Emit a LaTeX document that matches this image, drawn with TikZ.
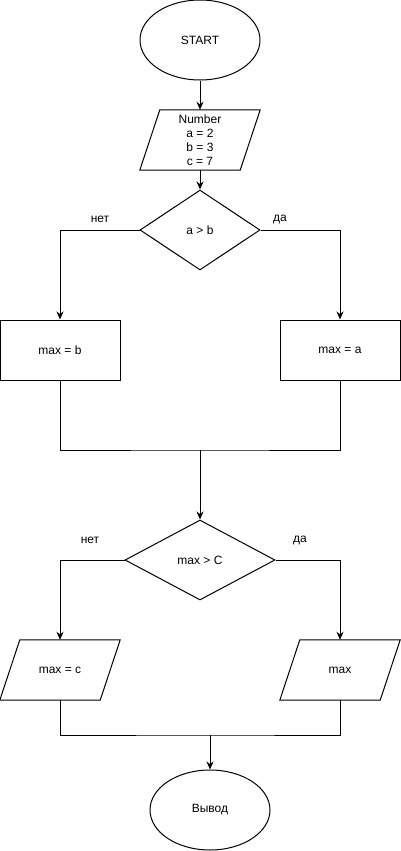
\documentclass[tikz,border=0pt]{standalone}
\usepackage{fontspec}
\setmainfont{Liberation Sans}
\usetikzlibrary{shapes.geometric,arrows.meta}
\begin{document}
\begin{tikzpicture}[x=1pt,y=-1pt,
  every node/.style={font=\fontsize{12}{14}\selectfont, inner sep=0pt},
  base/.style={draw, line width=1pt},
  term/.style={base, ellipse, minimum width=120pt, minimum height=80pt},
  proc/.style={base, rectangle, minimum width=120pt, minimum height=60pt},
  iobox/.style={rectangle, minimum width=120pt, minimum height=60pt},
  cond/.style={base, diamond, minimum height=80pt},
  line/.style={line width=1pt},
  arr/.style={line width=1pt, -{Stealth[length=8pt,width=7pt]}},
  lbl/.style={}
]
\useasboundingbox (0,0) rectangle (401,851);

% nodes
\node[term] (start) at (200,40) {START};
\node[iobox, align=center] (input) at (200,140) {Number\\a = 2\\b = 3\\c = 7};
\node[cond, minimum width=120pt] (d1) at (200,230) {a > b};
\node[proc] (r1) at (60,350) {max = b};
\node[proc] (r2) at (340,350) {max = a};
\coordinate (j1) at (200,450);
\node[cond, minimum width=150pt] (d2) at (200,560) {max > C};
\node[iobox] (o1) at (60,670) {max = c};
\node[iobox] (o2) at (340,670) {max};
\coordinate (j2) at (210,735);
\node[term] (finish) at (210,810) {Вывод};

% parallelogram outlines of the input/output blocks
\foreach \n in {input,o1,o2}
  \draw[line, line join=miter] ([xshift=20pt]\n.north west) -- (\n.north east)
    -- ([xshift=-20pt]\n.south east) -- (\n.south west) -- cycle;

% branch labels
\node[lbl] (n1) at (100,219) {нет};
\node[lbl] (y1) at (280,219) {да};
\node[lbl] (n2) at (90,540) {нет};
\node[lbl] (y2) at (300,540) {да};

% connectors
\draw[arr] (start) -- (input);
\draw[arr] (input) -- (d1);
\draw[arr] (d1.west) -| (r1.north);
\draw[arr] (d1.east) -| (r2.north);
\draw[line] (r1.south) |- (j1) -| (r2.south);
\draw[arr] (j1) -- (d2.north);
\draw[arr] (d2.west) -| (o1.north);
\draw[arr] (d2.east) -| (o2.north);
\draw[line] (o1.south) |- (j2) -| (o2.south);
\draw[arr] (j2) -- (finish.north);
\end{tikzpicture}
\end{document}
